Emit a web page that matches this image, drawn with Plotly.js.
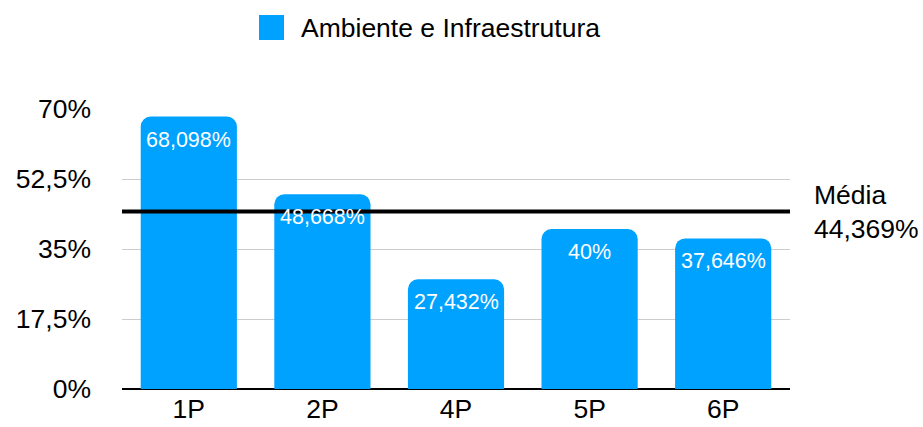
<!DOCTYPE html>
<html>
<head>
<meta charset="utf-8">
<script src="https://cdn.plot.ly/plotly-3.0.1.min.js"></script>
<style>html,body{margin:0;padding:0;background:#fff;}#chart{width:923px;height:427px;}</style>
</head>
<body>
<div id="chart"></div>
<script>
var seriesName = "Ambiente e Infraestrutura";
var categories = ["1P", "2P", "4P", "5P", "6P"];
var values = [68.098, 48.668, 27.432, 40, 37.646];
var barLabels = ["68,098%", "48,668%", "27,432%", "40%", "37,646%"];
var yTickVals = [0, 17.5, 35, 52.5, 70];
var yTickText = ["0%", "17,5%", "35%", "52,5%", "70%"];
var meanLabel = "Média";

var mean = values.reduce(function(a, b){ return a + b; }, 0) / values.length;
var meanText = mean.toFixed(3).replace(".", ",") + "%";

var FONT = "Helvetica Neue, Liberation Sans, Arial, sans-serif";
var BLUE = "#00A2FF";
var FS = 26.5;

var trace = {
  type: "bar",
  x: categories,
  y: values,
  name: seriesName,
  marker: {color: BLUE, cornerradius: 10},
  hoverinfo: "skip",
  showlegend: false
};

var annotations = [
  {xref: "paper", yref: "y", x: 1, y: mean, xanchor: "left", yanchor: "middle",
   xshift: 22, align: "left", showarrow: false,
   text: meanLabel + "<br>" + meanText,
   font: {family: FONT, size: FS, color: "#000"}},
  {xref: "paper", yref: "paper", x: (299-122)/668, y: (389-28)/280,
   xanchor: "left", yanchor: "middle", showarrow: false,
   text: seriesName, font: {family: FONT, size: FS, color: "#000"}}
];
categories.forEach(function(c, i){
  annotations.push({
    xref: "x", yref: "y", x: c, y: values[i],
    xanchor: "center", yanchor: "middle", yshift: -23,
    showarrow: false, text: barLabels[i],
    font: {family: FONT, size: 21.5, color: "#ffffff"}
  });
});

var layout = {
  width: 923, height: 427,
  margin: {l: 122, r: 133, t: 109, b: 38},
  paper_bgcolor: "#ffffff", plot_bgcolor: "#ffffff",
  font: {family: FONT, size: FS, color: "#000000"},
  bargap: 0.28,
  showlegend: false,
  xaxis: {
    type: "category",
    showgrid: false, showline: false, zeroline: false,
    ticks: "", ticklabelstandoff: 1,
    tickfont: {family: FONT, size: FS, color: "#000"}
  },
  yaxis: {
    range: [0, 70],
    tickvals: yTickVals, ticktext: yTickText,
    showgrid: true, gridcolor: "#cccccc", gridwidth: 1,
    zeroline: true, zerolinecolor: "#000000", zerolinewidth: 2,
    showline: false, ticks: "", ticklabelstandoff: 30,
    tickfont: {family: FONT, size: FS, color: "#000"}
  },
  shapes: [
    {type: "line", xref: "paper", x0: 0, x1: 1, yref: "y", y0: mean, y1: mean,
     line: {color: "#000000", width: 4}},
    {type: "rect", xref: "paper", yref: "paper", x0: (259-122)/668, x1: (284-122)/668,
     y0: (389-40)/280, y1: (389-15)/280, fillcolor: BLUE, line: {width: 0}}
  ],
  annotations: annotations
};

Plotly.newPlot("chart", [trace], layout, {displayModeBar: false, staticPlot: true});
</script>
</body>
</html>
